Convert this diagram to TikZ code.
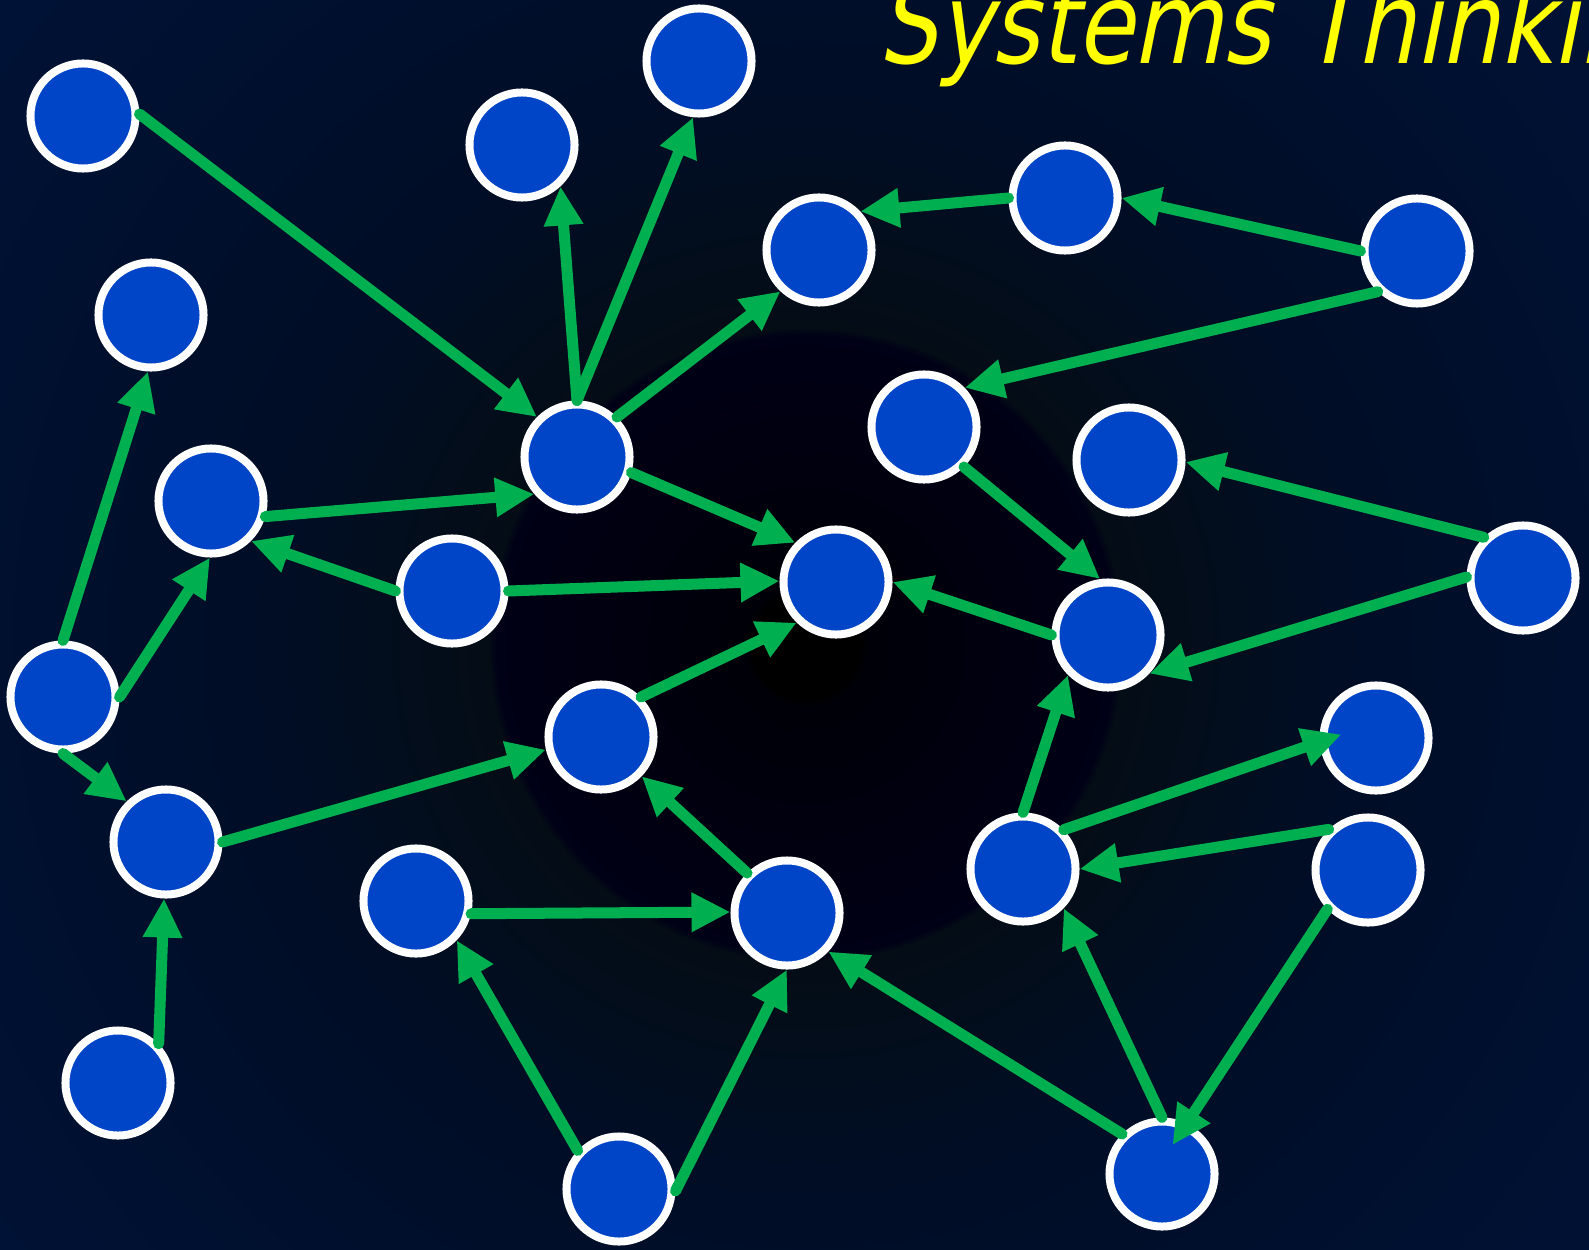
\documentclass[tikz,border=0pt]{standalone}
\usepackage{fontspec}
\usetikzlibrary{arrows.meta}

\newfontfamily\titlefont[FakeSlant=0.2,FakeStretch=0.82]{DejaVu Sans}

\definecolor{nodeblue}{RGB}{0,68,200}
\definecolor{linkgreen}{RGB}{0,176,80}
\definecolor{titleyellow}{RGB}{255,255,0}
\definecolor{bgcore}{RGB}{0,0,0}
\definecolor{bgspot}{RGB}{0,0,8}
\definecolor{bgdisk}{RGB}{0,0,22}
\definecolor{bgring}{RGB}{4,13,22}
\definecolor{bgmid}{RGB}{0,13,38}
\definecolor{bgedge}{RGB}{0,18,54}

\pgfdeclareradialshading{bgglow}{\pgfpoint{0bp}{0bp}}{%
  color(0bp)=(bgcore); color(1.3bp)=(bgcore); color(1.5bp)=(bgspot);
  color(7.5bp)=(bgdisk); color(7.7bp)=(bgring); color(13.5bp)=(bgmid);
  color(25bp)=(bgedge); color(50bp)=(bgedge)}

\tikzset{
  elem/.style={circle, fill=nodeblue, draw=white, line width=0.08cm, minimum size=1.05cm, inner sep=0pt},
  link/.style={linkgreen, line width=0.11cm, line cap=round, -{Triangle[length=0.39cm,width=0.37cm]}}
}

\begin{document}
\begin{tikzpicture}[x=0.01cm, y=-0.01cm]

        % Background glow
        \useasboundingbox (0,0) rectangle (1589,1249);
        \fill[bgedge] (0,0) rectangle (1589,1249);
        \begin{scope}
            \clip (0,0) rectangle (1589,1249);
            \shade[shading=bgglow] (806,645) circle [radius=10.3cm];
        \end{scope}

        % Title (runs off the page)
        \node[anchor=base west, inner sep=0pt, text=titleyellow, font=\titlefont\fontsize{32pt}{38pt}\selectfont] (title) at (878,64) {Systems Thinking};

        % Elements
        \node[elem] (a) at (83,116) {};
        \node[elem] (b) at (522,145) {};
        \node[elem] (c) at (699,61) {};
        \node[elem] (d) at (819,250) {};
        \node[elem] (e) at (1065,198) {};
        \node[elem] (f) at (1417,251) {};
        \node[elem] (g) at (151,315) {};
        \node[elem] (h) at (577,457) {};
        \node[elem] (i) at (924,427) {};
        \node[elem] (j) at (1129,460) {};
        \node[elem] (k) at (211,501) {};
        \node[elem] (l) at (452,591) {};
        \node[elem] (m) at (836,582) {};
        \node[elem] (n) at (1523,578) {};
        \node[elem] (o) at (1108,635) {};
        \node[elem] (p) at (63,697) {};
        \node[elem] (q) at (601,737) {};
        \node[elem] (r) at (1376,738) {};
        \node[elem] (s) at (166,842) {};
        \node[elem] (t) at (416,901) {};
        \node[elem] (u) at (787,913) {};
        \node[elem] (v) at (1023,869) {};
        \node[elem] (w) at (1368,870) {};
        \node[elem] (x) at (118,1083) {};
        \node[elem] (y) at (619,1189) {};
        \node[elem] (z) at (1162,1174) {};

        % Links
        \draw[link] (a.2) -- (h.135);
        \draw[link] (h.90) -- (b.-47);
        \draw[link] (h.90) -- (c.-96);
        \draw[link] (h.45) -- (d.-133);
        \draw[link] (e.180) -- (d.43);
        \draw[link] (f.180) -- (e.0);
        \draw[link] (f.-134) -- (i.44);
        \draw[link] (h.-16) -- (m.136);
        \draw[link] (k.-16) -- (h.-139);
        \draw[link] (l.180) -- (k.-45);
        \draw[link] (l.0) -- (m.179);
        \draw[link] (i.-45) -- (o.98);
        \draw[link] (o.180) -- (m.0);
        \draw[link] (n.134) -- (j.-2);
        \draw[link] (n.179) -- (o.-43);
        \draw[link] (p.90) -- (g.-93);
        \draw[link] (p.0) -- (k.-91);
        \draw[link] (p.-90) -- (s.134);
        \draw[link] (s.0) -- (q.-167);
        \draw[link] (q.45) -- (m.-134);
        \draw[link] (u.135) -- (q.-44);
        \draw[link] (t.-13) -- (u.179);
        \draw[link] (y.137) -- (t.-44);
        \draw[link] (y.-2) -- (u.-90);
        \draw[link] (z.135) -- (u.-43);
        \draw[link] (z.90) -- (v.-44);
        \draw[link] (v.90) -- (o.-135);
        \draw[link, shorten >=-0.23cm] (v.44) -- (r.184); % tip runs into the node
        \draw[link] (w.134) -- (v.0);
        \draw[link, shorten >=-0.26cm] (w.-136) -- (z.64); % tip runs into the node
        \draw[link] (x.44) -- (s.-92);

\end{tikzpicture}
\end{document}
